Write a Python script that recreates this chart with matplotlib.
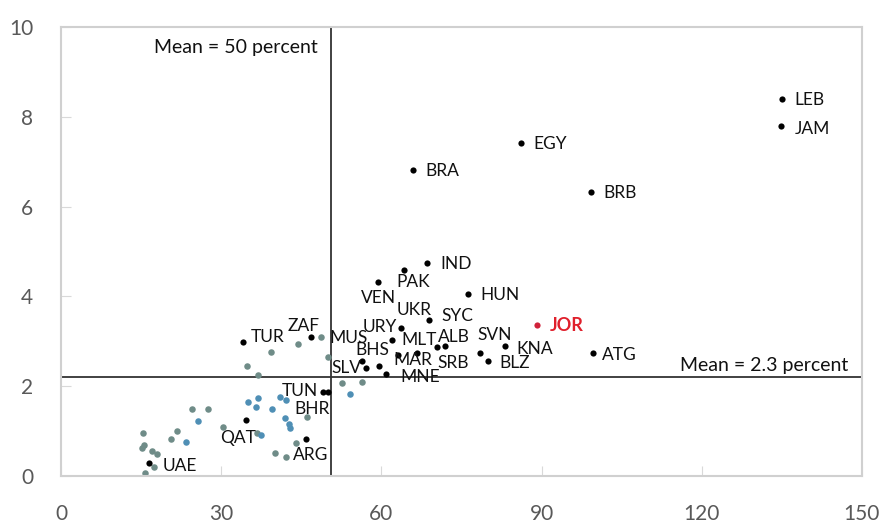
import matplotlib
matplotlib.use("Agg")
import matplotlib.pyplot as plt

plt.rcParams['font.family'] = ['Lato', 'DejaVu Sans']

# labelled countries (x: percent, y: percent)
names = ['LEB', 'JAM', 'EGY', 'BRA', 'BRB', 'IND', 'PAK', 'VEN', 'HUN', 'SYC',
         'UKR', 'URY', 'ALB', 'SRB', 'MLT', 'MAR', 'BHS', 'MUS', 'SLV', 'MNE',
         'SVN', 'KNA', 'BLZ', 'ATG', 'TUR', 'ZAF', 'TUN', 'BHR', 'QAT', 'ARG', 'UAE']
x_lab = [135.0, 134.9, 86.1, 65.9, 99.2, 68.6, 64.2, 59.4, 76.2, 68.9,
         63.7, 62.0, 72.0, 70.4, 63.2, 66.6, 56.4, 59.6, 57.1, 60.9,
         78.5, 83.1, 79.9, 99.7, 34.1, 46.9, 49.1, 50.1, 34.6, 45.9, 16.5]
y_lab = [8.39, 7.80, 7.41, 6.82, 6.33, 4.75, 4.59, 4.32, 4.06, 3.47,
         3.30, 3.03, 2.90, 2.88, 2.69, 2.73, 2.56, 2.46, 2.41, 2.27,
         2.75, 2.90, 2.55, 2.73, 2.98, 3.10, 1.86, 1.86, 1.24, 0.82, 0.28]

# Jordan, highlighted
jor_x, jor_y = 89.1, 3.36

# unlabelled countries, two groups
x_grey = [15.3, 15.1, 15.6, 17.0, 18.0, 17.4, 15.8, 20.7, 21.7, 24.5, 27.6,
          30.3, 34.8, 36.9, 39.3, 44.4, 48.7, 50.1, 36.8, 44.1, 40.1, 42.1,
          46.0, 52.7, 56.4]
y_grey = [0.96, 0.62, 0.68, 0.56, 0.48, 0.19, 0.06, 0.82, 1.01, 1.49, 1.49,
          1.10, 2.45, 2.25, 2.77, 2.94, 3.09, 2.64, 0.96, 0.73, 0.51, 0.42,
          1.31, 2.06, 2.10]
x_blue = [23.5, 25.7, 35.0, 36.9, 36.5, 41.0, 42.1, 39.6, 41.9, 42.8, 42.9, 37.4, 54.2]
y_blue = [0.75, 1.22, 1.65, 1.73, 1.54, 1.77, 1.69, 1.49, 1.29, 1.16, 1.06, 0.91, 1.83]

mean_x = 50.6
mean_y = 2.2

# label offsets in pixels (dx, dy, ha); default is right of the dot
offsets = {
    'JAM': (13, -3, 'left'), 'PAK': (9, -12, 'center'), 'VEN': (0, -16, 'center'),
    'SYC': (13, 4, 'left'), 'UKR': (13, 18, 'center'), 'URY': (-12, 13, 'center'),
    'ALB': (8, 9, 'center'), 'SRB': (16, -16, 'center'), 'MLT': (21, 15, 'center'),
    'MAR': (-4, -7, 'center'), 'BHS': (10, 11, 'center'), 'MUS': (-31, 28, 'center'),
    'SLV': (-19, 0, 'center'), 'MNE': (14, -3, 'left'), 'SVN': (15, 18, 'center'),
    'KNA': (12, -3, 'left'), 'BLZ': (12, -2, 'left'), 'ATG': (9, -2, 'left'),
    'TUR': (8, 5, 'left'), 'ZAF': (-8, 11, 'center'), 'TUN': (-5, 1, 'right'),
    'BHR': (-16, -17, 'center'), 'QAT': (-8, -18, 'center'), 'ARG': (5, -16, 'center'),
    'UAE': (14, -3, 'left'),
}

fig = plt.figure(figsize=(8.86, 5.27), dpi=100)
ax = fig.add_axes([0.0688, 0.0968, 0.904, 0.852])

ax.scatter(x_grey, y_grey, s=22, color='#6f8c88', zorder=2, linewidths=0)
ax.scatter(x_blue, y_blue, s=22, color='#4f8fb5', zorder=2, linewidths=0)
ax.scatter(x_lab, y_lab, s=20, color='black', zorder=3, linewidths=0)
ax.scatter([jor_x], [jor_y], s=20, color='#d0223a', zorder=3, linewidths=0)

for n, x, y in zip(names, x_lab, y_lab):
    dx, dy, ha = offsets.get(n, (13, -1, 'left'))
    ax.annotate(n, (x, y), xytext=(dx, dy), textcoords='offset pixels',
                ha=ha, va='center', fontsize=12.5, color='#111111', zorder=4)
ax.annotate('JOR', (jor_x, jor_y), xytext=(13, 0), textcoords='offset pixels',
            ha='left', va='center', fontsize=13, color='#e0202c',
            fontweight='bold', zorder=4)

ax.axvline(mean_x, color='#333333', lw=1.3, zorder=1)
ax.axhline(mean_y, color='#333333', lw=1.3, zorder=1)
ax.text(48, 9.55, 'Mean = 50 percent', ha='right', va='center', fontsize=14, color='#111111')
ax.text(147.4, 2.47, 'Mean = 2.3 percent', ha='right', va='center', fontsize=14, color='#111111')

ax.set_xlim(0, 150)
ax.set_ylim(0, 10)
ax.set_xticks([0, 30, 60, 90, 120, 150])
ax.set_yticks([0, 2, 4, 6, 8, 10])
ax.tick_params(axis='both', direction='in', length=7, color='#d9d9d9',
               labelsize=15, labelcolor='#595959')
ax.tick_params(axis='x', pad=20)
ax.tick_params(axis='y', pad=20)
for sp in ax.spines.values():
    sp.set_color('#d0d0d0')
    sp.set_linewidth(1.5)

fig.savefig('out.png', dpi=100)
